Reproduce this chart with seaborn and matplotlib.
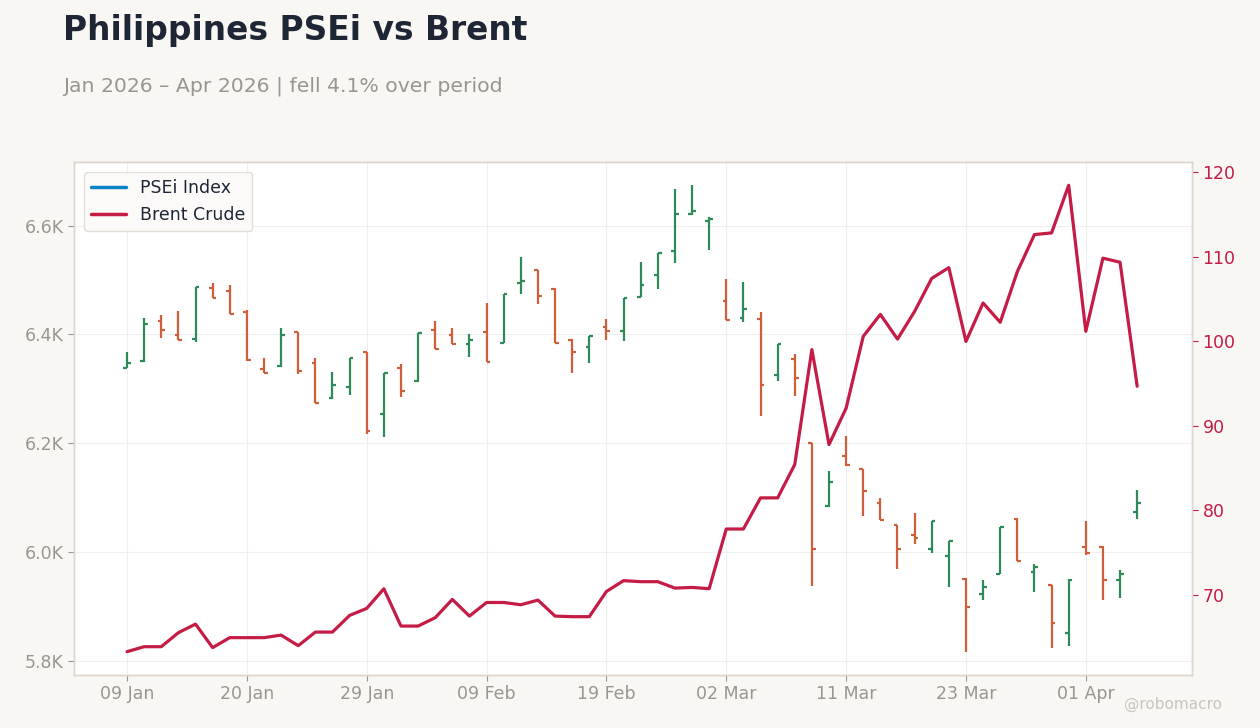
import matplotlib
matplotlib.use("Agg")
import matplotlib.pyplot as plt
import seaborn as sns
import pandas as pd
from matplotlib.lines import Line2D
from matplotlib.ticker import FuncFormatter, MultipleLocator

# trading days (PSE holidays removed)
holidays = ["2026-02-17", "2026-03-20", "2026-04-02", "2026-04-03"]
dates = [d for d in pd.bdate_range("2026-01-09", "2026-04-08")
         if d.strftime("%Y-%m-%d") not in holidays]

psei_open = [6339, 6352, 6425, 6398, 6392, 6486, 6479, 6442, 6336, 6342,
             6404, 6347, 6284, 6304, 6367, 6254, 6339, 6314, 6409, 6398,
             6383, 6404, 6385, 6494, 6518, 6484, 6390, 6376, 6413, 6407,
             6469, 6510, 6553, 6622, 6608, 6462, 6431, 6429, 6326, 6354,
             6200, 6085, 6177, 6152, 6091, 6049, 6031, 6006, 5993, 5951,
             5923, 5960, 6061, 5964, 5939, 5852, 6010, 6010, 5949, 6074]
psei_high = [6368, 6430, 6436, 6443, 6488, 6495, 6491, 6444, 6357, 6412,
             6405, 6357, 6331, 6356, 6368, 6330, 6346, 6402, 6425, 6412,
             6401, 6458, 6475, 6542, 6519, 6485, 6391, 6397, 6428, 6467,
             6533, 6549, 6668, 6674, 6616, 6501, 6496, 6441, 6383, 6364,
             6201, 6149, 6214, 6153, 6099, 6050, 6072, 6057, 6020, 5952,
             5949, 6046, 6062, 5979, 5940, 5950, 6057, 6011, 5967, 6114]
psei_low = [6338, 6350, 6394, 6390, 6386, 6466, 6438, 6352, 6329, 6341,
            6327, 6274, 6282, 6288, 6217, 6212, 6285, 6312, 6373, 6382,
            6358, 6349, 6384, 6475, 6455, 6384, 6330, 6348, 6389, 6387,
            6468, 6483, 6531, 6620, 6555, 6426, 6422, 6250, 6314, 6286,
            5938, 6083, 6158, 6067, 6059, 5969, 6015, 5999, 5935, 5817,
            5912, 5959, 5983, 5927, 5824, 5828, 5994, 5912, 5916, 6061]
psei_close = [6348, 6420, 6409, 6390, 6488, 6466, 6438, 6353, 6330, 6399,
              6333, 6274, 6307, 6356, 6223, 6330, 6296, 6402, 6373, 6382,
              6390, 6350, 6475, 6499, 6471, 6385, 6368, 6397, 6407, 6467,
              6490, 6549, 6621, 6626, 6612, 6427, 6446, 6307, 6382, 6320,
              6006, 6128, 6160, 6113, 6059, 6006, 6026, 6057, 6020, 5899,
              5936, 6046, 5984, 5973, 5870, 5949, 5999, 5949, 5959, 6091]
brent = [63.29, 63.88, 63.88, 65.54, 66.55, 63.77, 64.95, 64.95, 64.95, 65.25,
         64.00, 65.61, 65.61, 67.58, 68.41, 70.73, 66.32, 66.32, 67.31, 69.47,
         67.50, 69.11, 69.11, 68.84, 69.39, 67.50, 67.43, 67.43, 70.41, 71.69,
         71.57, 71.57, 70.81, 70.89, 70.74, 77.80, 77.80, 81.48, 81.48, 85.42,
         99.02, 87.78, 92.09, 100.58, 103.18, 100.26, 103.53, 107.44, 108.71, 99.98,
         104.53, 102.25, 108.24, 112.62, 112.82, 118.45, 101.18, 109.83, 109.35, 94.68]

UP = "#2e8b57"
DOWN = "#cf5f3a"
BRENT = "#c41c45"
PSEI = "#0a84c6"
MUTED = "#9a9590"
BG = "#f8f7f4"

df = pd.DataFrame({"date": dates, "open": psei_open, "high": psei_high,
                   "low": psei_low, "close": psei_close, "brent": brent})
df["i"] = range(len(df))

sns.set_theme(style="white")
plt.rcParams["font.family"] = ["DejaVu Sans"]

fig = plt.figure(figsize=(12.6, 7.28), dpi=100, facecolor=BG)
ax = fig.add_axes([0.0587, 0.0728, 0.8873, 0.7047])
ax.set_facecolor("white")

colors = [UP if c >= o else DOWN for o, c in zip(df["open"], df["close"])]
w = 0.22
ax.vlines(df["i"], df["low"], df["high"], colors=colors, lw=1.6, zorder=3)
ax.hlines(df["open"], df["i"] - w, df["i"], colors=colors, lw=1.6, zorder=3)
ax.hlines(df["close"], df["i"], df["i"] + w, colors=colors, lw=1.6, zorder=3)

ax2 = ax.twinx()
sns.lineplot(data=df, x="i", y="brent", ax=ax2, color=BRENT, lw=2.3, legend=False)

ax.set_xlim(-3.1, 62.2)
ticks = list(range(0, len(df), 7))
ax.set_xticks(ticks)
ax.set_xticklabels([df["date"][t].strftime("%d %b") for t in ticks])
ax.yaxis.set_major_locator(MultipleLocator(200))
ax.yaxis.set_major_formatter(FuncFormatter(lambda v, p: f"{v/1000:.1f}K"))
ax2.yaxis.set_major_locator(MultipleLocator(10))

ax.grid(True, color="#efefef", lw=0.8)
ax.set_axisbelow(True)
ax.set_xlabel("")
ax.set_ylabel("")
ax2.set_xlabel("")
ax2.set_ylabel("")

ax.tick_params(axis="both", colors=MUTED, labelsize=12.5, length=4, width=0.8,
               left=True, bottom=True)
ax2.tick_params(axis="y", colors=BRENT, labelcolor=BRENT, labelsize=12.5,
                length=4, width=0.8, right=True)
for a in (ax, ax2):
    for s in a.spines.values():
        s.set_color("#ddd6cc")
        s.set_linewidth(1)

handles = [Line2D([], [], color=PSEI, lw=2.5), Line2D([], [], color=BRENT, lw=2.5)]
leg = ax2.legend(handles, ["PSEi Index", "Brent Crude"], loc="upper left",
                 fontsize=12.5, frameon=True, facecolor="#fbfaf8",
                 edgecolor="#e3ded6", framealpha=1, borderaxespad=0.6,
                 handlelength=2.0)
for t in leg.get_texts():
    t.set_color("#1e2535")

fig.text(0.05, 0.958, "Philippines PSEi vs Brent", fontsize=23.7, fontweight="bold",
         color="#1e2535", va="center", ha="left")
fig.text(0.05, 0.882, "Jan 2026 \u2013 Apr 2026 | fell 4.1% over period",
         fontsize=14.65, color=MUTED, va="center", ha="left")
fig.text(0.97, 0.032, "@robomacro", fontsize=11, color="#c8c4bf",
         ha="right", va="center")

fig.savefig("out.png", dpi=100, facecolor=BG)
